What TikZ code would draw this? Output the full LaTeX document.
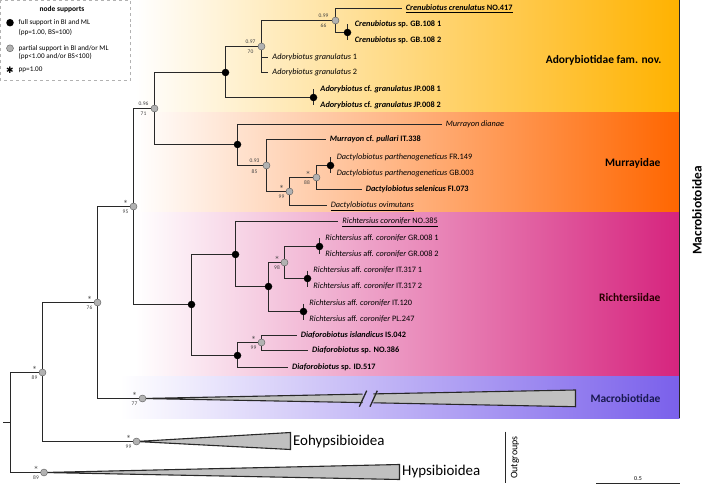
\documentclass[tikz,border=0pt]{standalone}
\usepackage{fontspec}
\setmainfont{Carlito}
\newfontfamily\symfont{DejaVu Sans}
\definecolor{adocol}{RGB}{255,178,0}
\definecolor{murcol}{RGB}{255,102,0}
\definecolor{riccol}{RGB}{214,36,126}
\definecolor{maccol}{RGB}{122,96,235}
\definecolor{branch}{RGB}{40,40,40}
\definecolor{partfill}{RGB}{178,178,178}
\definecolor{cladefill}{RGB}{192,192,192}
\definecolor{navy}{RGB}{25,25,80}
\begin{document}
\begin{tikzpicture}[x=1bp,y=-1bp,
  tree/.style={draw=branch,line width=1.7bp},
  clade/.style={draw=branch,fill=cladefill,line width=1.1bp},
  full/.style={circle,fill=black,inner sep=0pt,minimum size=7.5bp},
  part/.style={circle,fill=partfill,draw=gray!70!black,line width=0.4pt,inner sep=0pt,minimum size=7bp},
  pp/.style={font=\fontsize{5.5}{6}\selectfont,text=black!75,inner sep=0pt,text height=4pt,text depth=0pt},
  ast/.style={pp,font=\fontsize{7}{7}\selectfont\symfont},
  tip/.style={anchor=west,inner xsep=4pt,inner ysep=0pt,text height=5.8pt,text depth=1.7pt,font=\fontsize{8.3}{9}\selectfont},
  leg/.style={anchor=west,inner sep=1pt,font=\fontsize{7.2}{8}\selectfont},
  fam/.style={anchor=east,font=\fontsize{11.5}{13}\selectfont\bfseries}]
\useasboundingbox (0,0) rectangle (709,485);
\shade[left color=white,right color=adocol] (135,0) rectangle (679.5,113);
\shade[left color=white,right color=murcol] (135,113) rectangle (679.5,213);
\shade[left color=white,right color=riccol] (135,213) rectangle (679.5,376.7);
\shade[left color=white,right color=maccol] (120,376.7) rectangle (679.5,418.3);

\draw[gray!60,dashed,line width=0.5pt] (0.5,0.5) rectangle (130.5,80.5);
\node[font=\fontsize{7.5}{8}\selectfont\bfseries] (legtitle) at (62,9) {node supports};
\node[full] (legfull) at (10,22.7) {};
\node[leg] (legfulla) at (17.5,22.7) {full support in BI and ML};
\node[leg] (legfullb) at (17.5,32.3) {(pp=1.00, BS=100)};
\node[part] (legpart) at (10,48.3) {};
\node[leg] (legparta) at (17.5,48.3) {partial support in BI and/or ML};
\node[leg] (legpartb) at (17.5,56.7) {(pp<1.00 and/or BS<100)};
\node[inner sep=0pt,font=\fontsize{9}{9}\selectfont] (legstar) at (10,70) {\symfont ✱};
\node[leg] (legstara) at (17.5,70) {pp=1.00};

\coordinate (rt) at (3,422.5);
\coordinate (r) at (10.5,422.5);
\coordinate (n89a) at (42.5,372.5);
\coordinate (n89b) at (44,472.5);
\coordinate (n76) at (97.5,302.5);
\coordinate (n99e) at (136.5,441.5);
\coordinate (n95) at (133.5,206.5);
\coordinate (n77) at (142.5,398.5);
\coordinate (n96) at (154.5,108.5);
\coordinate (nRi) at (191.5,304.5);
\coordinate (nAd) at (225.5,72.5);
\coordinate (nMu) at (237.5,144.5);
\coordinate (n97) at (261.5,46.5);
\coordinate (n99c) at (335.5,20.5);
\coordinate (nGB) at (347.5,32.5);
\coordinate (nJP) at (313.5,97.5);
\coordinate (n93) at (266.5,165.5);
\coordinate (n99d) at (289.5,191.5);
\coordinate (n88) at (316.5,177.5);
\coordinate (nFR) at (330.5,165.5);
\coordinate (nRc) at (235.5,254.5);
\coordinate (nRa) at (268.5,286.5);
\coordinate (n98) at (284.5,262.5);
\coordinate (nGR) at (319.5,246.5);
\coordinate (nIT3) at (307.5,278.5);
\coordinate (nIT1) at (303.5,311.5);
\coordinate (nDi) at (237.5,355.5);
\coordinate (n99f) at (261.5,342.5);

\node[tip] (t417) at (401.7,8.5) {\underline{\textbf{\textit{Crenubiotus crenulatus} NO.417}}};
\node[tip] (tGB1) at (350.7,24.5) {\textbf{\textit{Crenubiotus} sp. GB.108 1}};
\node[tip] (tGB2) at (350.7,40.5) {\textbf{\textit{Crenubiotus} sp. GB.108 2}};
\node[tip] (tAg1) at (268.3,57.5) {\textit{Adorybiotus granulatus} 1};
\node[tip] (tAg2) at (268.3,72.5) {\textit{Adorybiotus granulatus} 2};
\node[tip] (tJP1) at (316.3,89.5) {\textbf{\textit{Adorybiotus} cf. \textit{granulatus} JP.008 1}};
\node[tip] (tJP2) at (316.3,105.5) {\textbf{\textit{Adorybiotus} cf. \textit{granulatus} JP.008 2}};
\node[tip] (tMd) at (441.7,124.5) {\textit{Murrayon dianae}};
\node[tip] (tMp) at (325.7,139.5) {\textbf{\textit{Murrayon} cf. \textit{pullari} IT.338}};
\node[tip] (tFR1) at (332.7,157.5) {\textit{Dactylobiotus parthenogeneticus} FR.149};
\node[tip] (tFR2) at (332.7,173.5) {\textit{Dactylobiotus parthenogeneticus} GB.003};
\node[tip] (tDs) at (361.7,189.5) {\textbf{\textit{Dactylobiotus selenicus} FI.073}};
\node[tip] (tDo) at (326.7,205.5) {\underline{\textit{Dactylobiotus ovimutans}}};
\node[tip] (tRn) at (338.3,221.5) {\underline{\textit{Richtersius coronifer} NO.385}};
\node[tip] (tGR1) at (321.3,238.5) {\textit{Richtersius} aff. \textit{coronifer} GR.008 1};
\node[tip] (tGR2) at (321.3,254.5) {\textit{Richtersius} aff. \textit{coronifer} GR.008 2};
\node[tip] (tIT31) at (309.3,270.5) {\textit{Richtersius} aff. \textit{coronifer} IT.317 1};
\node[tip] (tIT32) at (309.3,286.5) {\textit{Richtersius} aff. \textit{coronifer} IT.317 2};
\node[tip] (tIT1) at (305.3,303.5) {\textit{Richtersius} aff. \textit{coronifer} IT.120};
\node[tip] (tPL) at (305.3,319.5) {\textit{Richtersius} aff. \textit{coronifer} PL.247};
\node[tip] (tDi1) at (296.7,335.5) {\textbf{\textit{Diaforobiotus islandicus} IS.042}};
\node[tip] (tDi2) at (308,350.5) {\textbf{\textit{Diaforobiotus} sp. NO.386}};
\node[tip] (tDi3) at (288,367.5) {\textbf{\textit{Diaforobiotus} sp. ID.517}};

\draw[tree] (rt) -- (r);
\draw[tree] (r) |- (n89a);
\draw[tree] (r) |- (n89b);
\draw[tree] (n89a) |- (n76);
\draw[tree] (n89a) |- (n99e);
\draw[tree] (n76) |- (n95);
\draw[tree] (n76) |- (n77);
\draw[tree] (n95) |- (n96);
\draw[tree] (n95) |- (nRi);
\draw[tree] (n96) |- (nAd);
\draw[tree] (n96) |- (nMu);
\draw[tree] (nAd) |- (n97);
\draw[tree] (nAd) |- (nJP);
\draw[tree] (n97) |- (n99c);
\draw[tree] (n97) |- (tAg1.west);
\draw[tree] (n97) |- (tAg2.west);
\draw[tree] (n99c) |- (t417.west);
\draw[tree] (n99c) |- (nGB);
\draw[tree] (nGB |- tGB1.west) -- (nGB |- tGB2.west);
\draw[tree] (nJP |- tJP1.west) -- (nJP |- tJP2.west);
\draw[tree] (nMu) |- (tMd.west);
\draw[tree] (nMu) |- (n93);
\draw[tree] (n93) |- (tMp.west);
\draw[tree] (n93) |- (n99d);
\draw[tree] (n99d) |- (n88);
\draw[tree] (n99d) |- (tDo.west);
\draw[tree] (n88) |- (nFR);
\draw[tree] (n88) |- (tDs.west);
\draw[tree] (nFR |- tFR1.west) -- (nFR |- tFR2.west);
\draw[tree] (nRi) |- (nRc);
\draw[tree] (nRi) |- (nDi);
\draw[tree] (nRc) |- (tRn.west);
\draw[tree] (nRc) |- (nRa);
\draw[tree] (nRa) |- (n98);
\draw[tree] (nRa) |- (nIT1);
\draw[tree] (n98) |- (nGR);
\draw[tree] (n98) |- (nIT3);
\draw[tree] (nGR |- tGR1.west) -- (nGR |- tGR2.west);
\draw[tree] (nIT3 |- tIT31.west) -- (nIT3 |- tIT32.west);
\draw[tree] (nIT1 |- tIT1.west) -- (nIT1 |- tPL.west);
\draw[tree] (nDi) |- (n99f);
\draw[tree] (nDi) |- (tDi3.west);
\draw[tree] (n99f) |- (tDi1.west);
\draw[tree] (n99f) |- (tDi2.west);

\draw[clade] (n99e) -- (290.5,432.5) -- (290.5,449.5) -- cycle;
\draw[clade] (n89b) -- (399.5,464.5) -- (399.5,479.5) -- cycle;
\fill[cladefill] (n77) -- (362.5,394.1) -- (362.5,402.6) -- cycle;
\draw[tree,line width=1.1bp] (362.5,394.1) -- (n77) -- (362.5,402.6);
\fill[cladefill] (373.3,393.9) -- (575.5,390) -- (575.5,406.7) -- (373.3,402.8) -- cycle;
\draw[tree,line width=1.1bp] (373.3,393.9) -- (575.5,390) -- (575.5,406.7) -- (373.3,402.8);
\draw[tree,line width=1.3bp] (359.3,406.7) -- (366.7,390.7);
\draw[tree,line width=1.3bp] (370,406.7) -- (377.3,390.7);

\node[part] (m89a) at (n89a) {};
\node[part] (m89b) at (n89b) {};
\node[part] (m76) at (n76) {};
\node[part] (m99e) at (n99e) {};
\node[part] (m95) at (n95) {};
\node[part] (m77) at (n77) {};
\node[part] (m96) at (n96) {};
\node[full] (mRi) at (nRi) {};
\node[full] (mAd) at (nAd) {};
\node[full] (mMu) at (nMu) {};
\node[part] (m97) at (n97) {};
\node[part] (m99c) at (n99c) {};
\node[full] (mGB) at (nGB) {};
\node[full] (mJP) at (nJP) {};
\node[part] (m93) at (n93) {};
\node[part] (m99d) at (n99d) {};
\node[part] (m88) at (n88) {};
\node[full] (mFR) at (nFR) {};
\node[full] (mRc) at (nRc) {};
\node[full] (mRa) at (nRa) {};
\node[part] (m98) at (n98) {};
\node[full] (mGR) at (nGR) {};
\node[full] (mIT3) at (nIT3) {};
\node[full] (mIT1) at (nIT1) {};
\node[full] (mDi) at (nDi) {};
\node[part] (m99f) at (n99f) {};

\node[ast] (s89aa) at ([shift={(-8,-2.8)}]m89a) {*};
\node[pp] (s89ab) at ([shift={(-8,5.5)}]m89a) {89};
\node[ast] (s89ba) at ([shift={(-8,-2.8)}]m89b) {*};
\node[pp] (s89bb) at ([shift={(-8,5.5)}]m89b) {89};
\node[ast] (s76a) at ([shift={(-8,-2.8)}]m76) {*};
\node[pp] (s76b) at ([shift={(-8,5.5)}]m76) {76};
\node[ast] (s99ea) at ([shift={(-8,-2.8)}]m99e) {*};
\node[pp] (s99eb) at ([shift={(-8,5.5)}]m99e) {99};
\node[ast] (s95a) at ([shift={(-8,-2.8)}]m95) {*};
\node[pp] (s95b) at ([shift={(-8,5.5)}]m95) {95};
\node[ast] (s77a) at ([shift={(-8,-2.8)}]m77) {*};
\node[pp] (s77b) at ([shift={(-8,5.5)}]m77) {77};
\node[pp] (s96a) at ([shift={(-11,-4.5)}]m96) {0.96};
\node[pp] (s96b) at ([shift={(-11,5)}]m96) {71};
\node[pp] (s97a) at ([shift={(-11,-4.5)}]m97) {0.97};
\node[pp] (s97b) at ([shift={(-11,5.5)}]m97) {70};
\node[pp] (s99ca) at ([shift={(-12,-4.5)}]m99c) {0.99};
\node[pp] (s99cb) at ([shift={(-12,5.5)}]m99c) {66};
\node[pp] (s93a) at ([shift={(-12,-4.5)}]m93) {0.93};
\node[pp] (s93b) at ([shift={(-12,6)}]m93) {85};
\node[ast] (s99da) at ([shift={(-8,-2.8)}]m99d) {*};
\node[pp] (s99db) at ([shift={(-8,5)}]m99d) {99};
\node[ast] (s88a) at ([shift={(-8.5,-2.8)}]m88) {*};
\node[pp] (s88b) at ([shift={(-9.5,5)}]m88) {88};
\node[ast] (s98a) at ([shift={(-7.5,-2.8)}]m98) {*};
\node[pp] (s98b) at ([shift={(-7.5,5)}]m98) {98};
\node[ast] (s99fa) at ([shift={(-8,-2.8)}]m99f) {*};
\node[pp] (s99fb) at ([shift={(-8,5)}]m99f) {99};

\node[fam] (fAdo) at (665,60.7) {Adorybiotidae fam. nov.};
\node[fam] (fMur) at (664,163.3) {Murrayidae};
\node[fam,text=black!85!red] (fRic) at (664,297.3) {Richtersiidae};
\node[fam,text=navy] (fMac) at (664,399) {Macrobiotidae};
\draw[branch,line width=1.5bp] (679.5,0) -- (679.5,418.3);
\node[rotate=90,font=\fontsize{13.4}{16}\selectfont\bfseries] (supfam) at (697,210.5) {Macrobiotoidea};

\node[anchor=west,inner sep=2pt,font=\fontsize{15}{17}\selectfont] (eoh) at (291,441.5) {Eohypsibioidea};
\node[anchor=west,inner sep=2pt,font=\fontsize{15}{17}\selectfont] (hyp) at (400,472) {Hypsibioidea};
\draw[branch,line width=1.5bp] (505.5,431.7) -- (505.5,483);
\node[rotate=90,font=\fontsize{10}{12}\selectfont] (outg) at (515,457.5) {Outgroups};
\draw[branch,line width=0.9bp] (596,483.5) -- (680,483.5);
\node[font=\fontsize{6}{7}\selectfont] (sbar) at (638,478.5) {0.5};
\end{tikzpicture}
\end{document}
